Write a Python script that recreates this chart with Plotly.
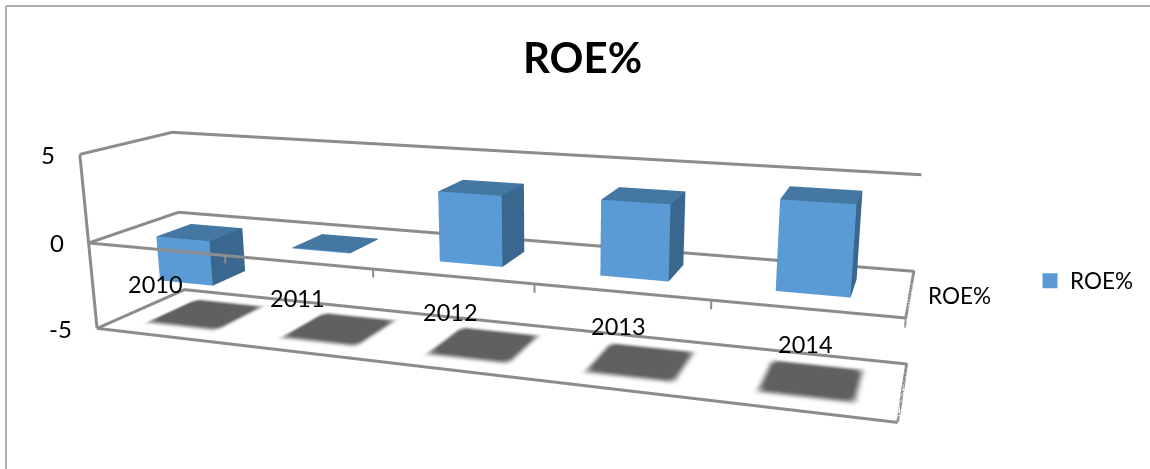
import math
import plotly.graph_objects as go

YEARS = ["2010", "2011", "2012", "2013", "2014"]
ROE = [-2.6, 0.05, 3.75, 3.9, 4.5]
Z_TICKS = [5, 0, -5]
SERIES = "ROE%"
TITLE = "ROE%"
YEAR_LIFT = [4, 4, 6, 9, 10]
YEAR_NUDGE = [-3, -2, -2, -2, 2]

FIG_W, FIG_H, SHIFT = 1150, 1005, 245
FONT = "Lato"
LINE = "#8c8c8c"
FRONT, TOP, SIDE = "#5b9bd5", "#4577a3", "#3a678f"
GAP = 0.3  # bar spans GAP..1-GAP of a category and of the depth


def py(window_y):
    return 1 - (window_y + SHIFT) / FIG_H


def box_mesh(x0, x1, y0, y1, z0, z1):
    xs = [x0, x1, x1, x0, x0, x1, x1, x0]
    ys = [y0, y0, y1, y1, y0, y0, y1, y1]
    zs = [z0, z0, z0, z0, z1, z1, z1, z1]
    i = [0, 0, 4, 4, 0, 0, 1, 1, 3, 3, 0, 0]
    j = [1, 2, 5, 6, 1, 5, 2, 6, 2, 6, 3, 7]
    k = [2, 3, 6, 7, 5, 4, 6, 5, 6, 7, 7, 4]
    col = [SIDE, SIDE, TOP, TOP, FRONT, FRONT, SIDE, SIDE, TOP, TOP, SIDE, SIDE]
    return go.Mesh3d(x=xs, y=ys, z=zs, i=i, j=j, k=k, facecolor=col, flatshading=True,
                     lighting=dict(ambient=1, diffuse=0, specular=0, fresnel=0, roughness=1),
                     hoverinfo="skip", showlegend=False, showscale=False)


def shadow_mesh(cx, padx, pady, rx, ry, z, col):
    # rounded rectangle on the floor, fan-triangulated
    hx, hy = 0.5 - GAP + padx, 0.5 - GAP + pady
    xs, ys = [cx], [0.5]
    for qx, qy, a0 in [(1, 1, 0), (-1, 1, 90), (-1, -1, 180), (1, -1, 270)]:
        for st in range(5):
            a = math.radians(st * 22.5)
            ca, sa = (math.cos(a), math.sin(a)) if a0 % 180 == 0 else (math.sin(a), math.cos(a))
            xs.append(cx + qx * (hx - rx) + qx * rx * ca)
            ys.append(0.5 + qy * (hy - ry) + qy * ry * sa)
    m = len(xs) - 1
    return go.Mesh3d(x=xs, y=ys, z=[z] * len(xs), i=[0] * m,
                     j=[p + 1 for p in range(m)], k=[(p + 1) % m + 1 for p in range(m)],
                     color=col, flatshading=True,
                     lighting=dict(ambient=1, diffuse=0, specular=0, fresnel=0),
                     hoverinfo="skip", showlegend=False)


def line(xs, ys, zs, width=6):
    return go.Scatter3d(x=xs, y=ys, z=zs, mode="lines", line=dict(color=LINE, width=width),
                        hoverinfo="skip", showlegend=False)


fig = go.Figure()
n = len(YEARS)

# plane outlines
fig.add_trace(line([0, 0, n], [0, 1, 1], [5, 5, 5]))
fig.add_trace(line([0, 0, n, n, 0], [0, 1, 1, 0, 0], [0] * 5))
fig.add_trace(line([0, 0, n, n, 0], [0, 1, 1, 0, 0], [-5] * 5))
fig.add_trace(line([0, 0], [0, 0], [5, -5]))
# ticks
for t in Z_TICKS:
    fig.add_trace(line([0, -0.07], [0, 0], [t, t], 4))
for c in range(1, n + 1):
    fig.add_trace(line([c, c], [0, 0], [0, -0.45], 4))
fig.add_trace(line([n, n + 0.06], [1, 1], [0, 0], 4))
fig.add_trace(line([n, n + 0.06], [1, 1], [-5, -5], 4))
fig.add_trace(line([n, n + 0.06], [0, 0], [-5, -5], 4))

# soft floor shadows: nested opaque layers from pale to dark
LAYERS = 10
for c in range(n):
    for s in range(LAYERS):
        f = s / (LAYERS - 1)
        g = round(250 - (250 - 96) * (f * f * (3 - 2 * f)))
        padx = 0.095 - 0.06 * f
        pady = 0.15 - 0.12 * f
        fig.add_trace(shadow_mesh(c + 0.5, padx, pady, 0.04, 0.08, -4.98 + s * 0.006, f"rgb({g},{g},{g})"))

# bars
for c, v in enumerate(ROE):
    fig.add_trace(box_mesh(c + GAP, c + 1 - GAP, GAP, 1 - GAP, min(0, v), max(0, v)))

# legend entry
fig.add_trace(go.Scatter3d(x=[None], y=[None], z=[None], mode="markers", name=SERIES,
                           marker=dict(color=FRONT, size=15, symbol="square")))

annots = []
for t in Z_TICKS:
    annots.append(dict(x=0, y=0, z=t, text=str(t), showarrow=False, xanchor="right",
                       xshift=-23, font=dict(size=24, color="black", family=FONT)))
for c, yr in enumerate(YEARS):
    annots.append(dict(x=c + 0.5, y=0, z=-2.2, text=yr, showarrow=False, xshift=YEAR_NUDGE[c], yshift=YEAR_LIFT[c],
                       font=dict(size=23.5, color="black", family=FONT)))
annots.append(dict(x=n, y=0.5, z=-0.1, text=SERIES, showarrow=False, xanchor="left", xshift=16,
                   font=dict(size=22.5, color="black", family=FONT)))

noaxis = dict(visible=False, showgrid=False, zeroline=False, showbackground=False, showspikes=False)
fig.update_layout(
    width=FIG_W, height=FIG_H, margin=dict(l=0, r=0, t=0, b=0),
    paper_bgcolor="white", showlegend=True,
    legend=dict(x=1030 / FIG_W, y=py(281), xanchor="left", yanchor="middle",
                font=dict(size=22.5, family=FONT, color="black"), bgcolor="rgba(0,0,0,0)"),
    annotations=[dict(x=582 / FIG_W, y=py(57), xref="paper", yref="paper", text="<b>" + TITLE + "</b>",
                      showarrow=False, xanchor="center", yanchor="middle",
                      font=dict(size=42, family=FONT, color="black"))],
    shapes=[
        dict(type="line", xref="paper", yref="paper", x0=6 / FIG_W, x1=1, y0=py(6), y1=py(6),
             line=dict(color="#b0b0b0", width=2)),
        dict(type="line", xref="paper", yref="paper", x0=6 / FIG_W, x1=6 / FIG_W, y0=py(6), y1=py(469),
             line=dict(color="#b0b0b0", width=2)),
    ],
    scene=dict(
        domain=dict(x=[0, 1104 / FIG_W], y=[0, 1]),
        xaxis=dict(range=[0, n], **noaxis),
        yaxis=dict(range=[0, 1], **noaxis),
        zaxis=dict(range=[-5, 5], **noaxis),
        aspectmode="manual",
        aspectratio=dict(x=2.065, y=0.393, z=0.47),
        camera=dict(eye=dict(x=1.10, y=-2.74, z=0.765), center=dict(x=0.179, y=0.013, z=0.009),
                    up=dict(x=0, y=0, z=1), projection=dict(type="perspective")),
        annotations=annots,
    ),
)

post = f"""
var gd = document.getElementById('{{plot_id}}');
gd.style.position = 'absolute'; gd.style.left = '0'; gd.style.top = '-{SHIFT}px';
document.documentElement.style.overflow = 'hidden';
document.body.style.overflow = 'hidden';
document.body.style.margin = '0';
document.body.style.height = '469px';
"""
fig.write_html("out.html", post_script=post, config=dict(displayModeBar=False))
